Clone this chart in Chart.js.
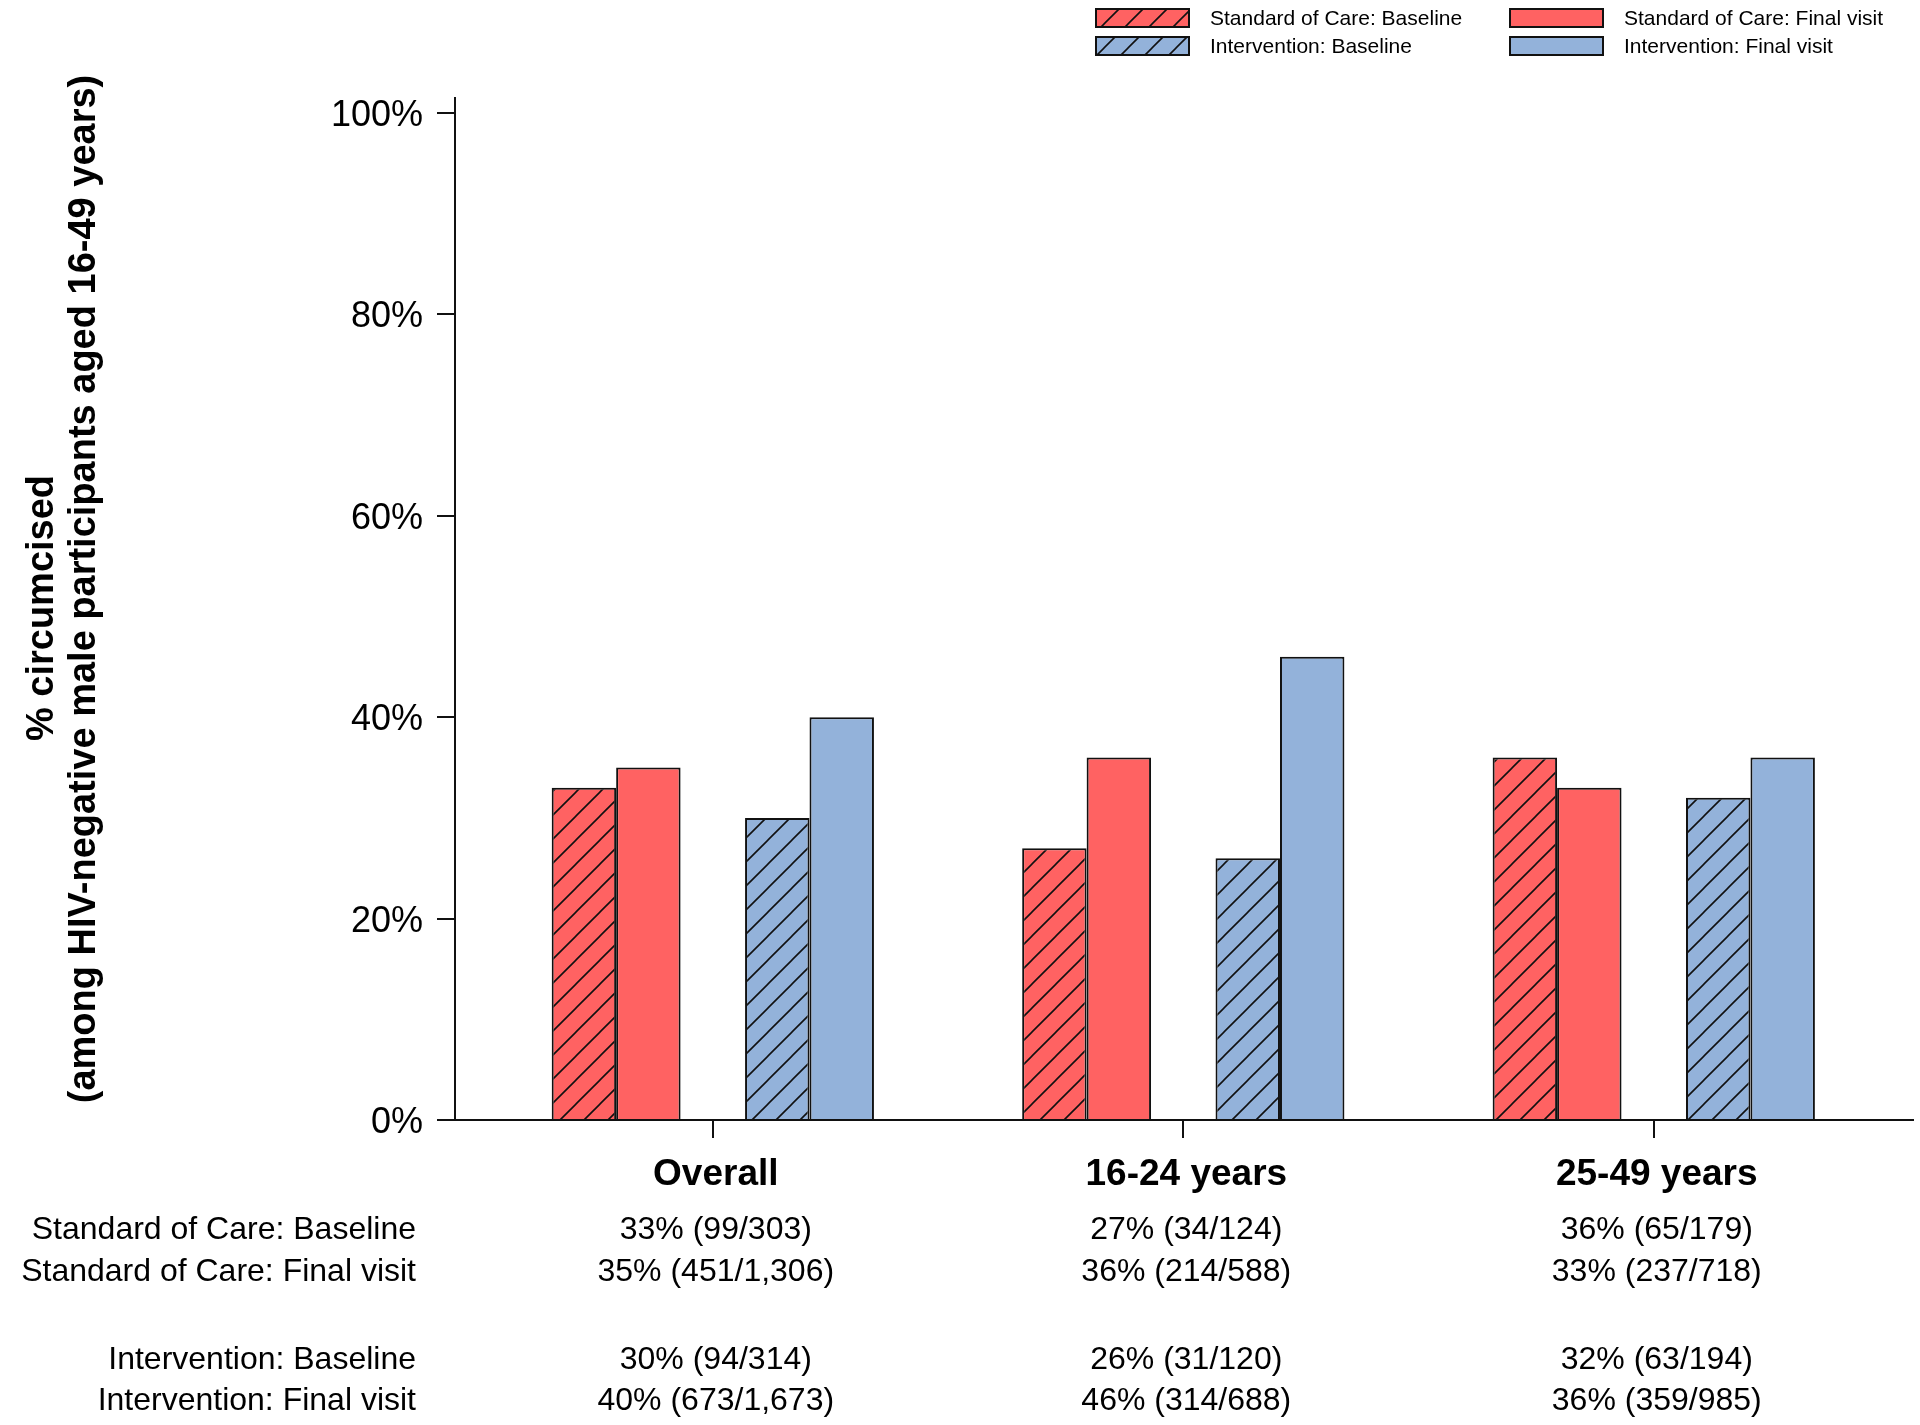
<!DOCTYPE html>
<html>

<head>
    <title>Circumcision by arm</title>
    <script src="https://cdn.jsdelivr.net/npm/chart.js"></script>
    <style>
        body {
            margin: 0;
            background: #fff;
        }

        .chart-container {
            width: 1920px;
            height: 1425px;
            position: relative;
        }
    </style>
</head>

<body>

    <div class="chart-container">
        <canvas id="circChart"></canvas>
    </div>

    <script>
        const groups = ['Overall', '16-24 years', '25-49 years'];
        const socBaseline = [33, 27, 36];
        const socFinal = [35, 36, 33];
        const intBaseline = [30, 26, 32];
        const intFinal = [40, 46, 36];
        const yTicks = [0, 20, 40, 60, 80, 100];

        const seriesNames = [
            'Standard of Care: Baseline',
            'Standard of Care: Final visit',
            'Intervention: Baseline',
            'Intervention: Final visit'
        ];
        const yTitle = ['% circumcised', '(among HIV-negative male participants aged 16-49 years)'];
        // n/N text under each group
        const socBaselineText = ['33% (99/303)', '27% (34/124)', '36% (65/179)'];
        const socFinalText = ['35% (451/1,306)', '36% (214/588)', '33% (237/718)'];
        const intBaselineText = ['30% (94/314)', '26% (31/120)', '32% (63/194)'];
        const intFinalText = ['40% (673/1,673)', '46% (314/688)', '36% (359/985)'];

        const red = '#ff6262';
        const blue = '#93b2da';
        const FONT = "'Liberation Sans', Arial, sans-serif";

        Chart.defaults.font.family = FONT;
        Chart.defaults.color = '#000';

        function hatch(color) {
            const s = 24;
            const c = document.createElement('canvas');
            c.width = s;
            c.height = s;
            const g = c.getContext('2d');
            g.fillStyle = color;
            g.fillRect(0, 0, s, s);
            g.strokeStyle = '#111';
            g.lineWidth = 1.6;
            g.beginPath();
            g.moveTo(0, s); g.lineTo(s, 0);
            g.moveTo(-2, 2); g.lineTo(2, -2);
            g.moveTo(s - 2, s + 2); g.lineTo(s + 2, s - 2);
            g.stroke();
            return g.createPattern(c, 'repeat');
        }

        const ctx = document.getElementById('circChart').getContext('2d');
        const redHatch = hatch(red);
        const blueHatch = hatch(blue);

        const toPoints = vals => vals.map((v, i) => ({ x: i, y: v }));

        function barSet(label, vals, fill) {
            return {
                label: label,
                data: toPoints(vals),
                backgroundColor: fill,
                borderColor: '#111',
                borderWidth: 2,
                categoryPercentage: 0.685,
                barPercentage: 1
            };
        }

        const legendItems = [
            { text: seriesNames[0], fill: redHatch, x: 1096, y: 9 },
            { text: seriesNames[1], fill: red, x: 1510, y: 9 },
            { text: seriesNames[2], fill: blueHatch, x: 1096, y: 37 },
            { text: seriesNames[3], fill: blue, x: 1510, y: 37 }
        ];

        const tableRows = [
            { label: seriesNames[0], cells: socBaselineText, y: 1230 },
            { label: seriesNames[1], cells: socFinalText, y: 1272 },
            { label: seriesNames[2], cells: intBaselineText, y: 1360 },
            { label: seriesNames[3], cells: intFinalText, y: 1401 }
        ];

        const extras = {
            id: 'extras',
            afterDraw: chart => {
                const c = chart.ctx;
                const xs = chart.scales.x;
                c.save();
                // y axis title, two rotated lines
                c.font = 'bold 38px ' + FONT;
                c.fillStyle = '#000';
                c.textAlign = 'center';
                c.textBaseline = 'alphabetic';
                [[yTitle[0], 53, 608], [yTitle[1], 95, 589]].forEach(([txt, bx, cy]) => {
                    c.save();
                    c.translate(bx, cy);
                    c.rotate(-Math.PI / 2);
                    c.fillText(txt, 0, 0);
                    c.restore();
                });
                // legend
                c.font = '21px ' + FONT;
                c.textBaseline = 'middle';
                c.textAlign = 'left';
                legendItems.forEach(it => {
                    c.fillStyle = it.fill;
                    c.fillRect(it.x, it.y, 93, 18);
                    c.strokeStyle = '#111';
                    c.lineWidth = 2;
                    c.strokeRect(it.x, it.y, 93, 18);
                    c.fillStyle = '#000';
                    c.fillText(it.text, 1210 + (it.x - 1096), it.y + 10);
                });
                // table of counts
                c.font = '32px ' + FONT;
                tableRows.forEach(row => {
                    c.textAlign = 'right';
                    c.fillText(row.label, 416, row.y);
                    c.textAlign = 'center';
                    row.cells.forEach((txt, i) => {
                        c.fillText(txt, xs.getPixelForValue(i) + 3, row.y);
                    });
                });
                c.restore();
            }
        };

        new Chart(ctx, {
            type: 'bar',
            data: {
                datasets: [
                    barSet(seriesNames[0], socBaseline, redHatch),
                    barSet(seriesNames[1], socFinal, red),
                    // empty slot between the two arms
                    {
                        label: '',
                        data: groups.map((g, i) => ({ x: i, y: null })),
                        backgroundColor: 'rgba(0,0,0,0)',
                        borderWidth: 0,
                        categoryPercentage: 0.685,
                        barPercentage: 1
                    },
                    barSet(seriesNames[2], intBaseline, blueHatch),
                    barSet(seriesNames[3], intFinal, blue)
                ]
            },
            options: {
                responsive: true,
                maintainAspectRatio: false,
                animation: false,
                layout: {
                    padding: { top: 98, right: 7, left: 0, bottom: 0 }
                },
                scales: {
                    x: {
                        type: 'linear',
                        offset: false,
                        min: -0.548,
                        max: 2.551,
                        afterBuildTicks: scale => {
                            scale.ticks = groups.map((g, i) => ({ value: i }));
                        },
                        afterFit: scale => {
                            scale.height = 305;
                        },
                        ticks: {
                            callback: v => groups[v],
                            font: { size: 37, weight: 'bold' },
                            padding: 15,
                            labelOffset: 3,
                            maxRotation: 0,
                            autoSkip: false
                        },
                        grid: {
                            offset: false,
                            drawOnChartArea: false,
                            tickLength: 18,
                            color: '#111',
                            lineWidth: 2
                        },
                        border: { color: '#111', width: 2 }
                    },
                    y: {
                        min: 0,
                        max: 101.5,
                        afterBuildTicks: scale => {
                            scale.ticks = yTicks.map(v => ({ value: v }));
                        },
                        afterFit: scale => {
                            scale.width = 455;
                        },
                        ticks: {
                            callback: v => v + '%',
                            font: { size: 36 },
                            padding: 14,
                            labelOffset: 3
                        },
                        grid: {
                            drawOnChartArea: false,
                            tickLength: 18,
                            color: '#111',
                            lineWidth: 2
                        },
                        border: { color: '#111', width: 2 }
                    }
                },
                plugins: {
                    legend: { display: false },
                    tooltip: { enabled: false }
                }
            },
            plugins: [extras]
        });
    </script>
</body>

</html>
